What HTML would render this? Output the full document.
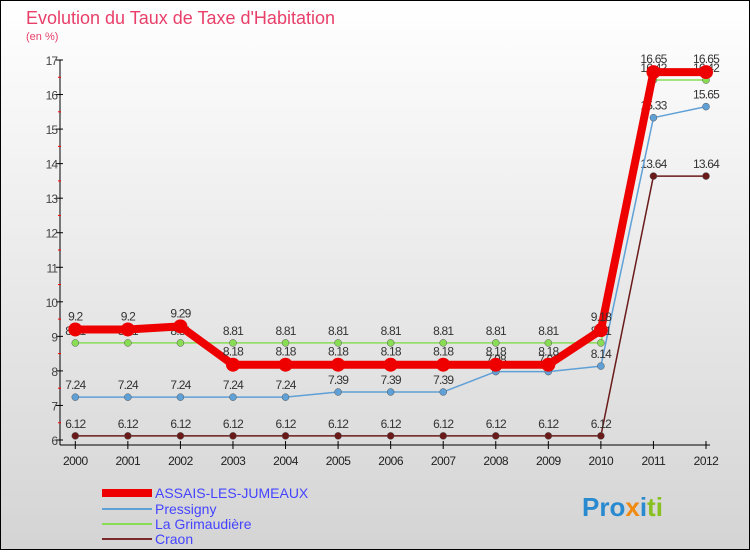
<!DOCTYPE html>
<html><head><meta charset="utf-8"><style>
body{margin:0;width:750px;height:550px;overflow:hidden;font-family:"Liberation Sans",sans-serif}
</style></head><body>
<svg id="c" width="750" height="550" xmlns="http://www.w3.org/2000/svg">
<defs><linearGradient id="bg" x1="0" y1="0" x2="0" y2="1"><stop offset="0" stop-color="#ffffff"/><stop offset="1" stop-color="#d4d4d4"/></linearGradient></defs>
<rect x="0.5" y="0.5" width="749" height="549" fill="url(#bg)" stroke="#000"/>
<text x="26" y="24" font-size="18" fill="#e8406a">Evolution du Taux de Taxe d'Habitation</text>
<text x="26" y="40" font-size="11" fill="#e8406a">(en %)</text>
<g id="axes"></g><g id="series"></g>
<g>
<rect x="102" y="489" width="50" height="8" fill="#ee0000"/>
<text x="155" y="498" font-size="14" fill="#4444ff">ASSAIS-LES-JUMEAUX</text>
<rect x="102" y="508" width="50" height="2" fill="#5fa0d6"/>
<text x="155" y="514" font-size="14" fill="#4444ff">Pressigny</text>
<rect x="102" y="523" width="50" height="2" fill="#88dd55"/>
<text x="155" y="529" font-size="14" fill="#4444ff">La Grimaudière</text>
<rect x="102" y="538" width="50" height="2" fill="#7a2a2a"/>
<text x="155" y="544" font-size="14" fill="#4444ff">Craon</text>
</g>
<text x="582" y="516" font-size="26" font-weight="bold"><tspan fill="#2a8ad0">Pro</tspan><tspan fill="#f08a10">x</tspan><tspan fill="#2a8ad0">i</tspan><tspan fill="#88c020">ti</tspan></text>
</svg>
<script>
const years=[2000,2001,2002,2003,2004,2005,2006,2007,2008,2009,2010,2011,2012];
const yTicks=[6,7,8,9,10,11,12,13,14,15,16,17];
const assais=[9.2,9.2,9.29,8.18,8.18,8.18,8.18,8.18,8.18,8.18,9.18,16.65,16.65];
const pressigny=[7.24,7.24,7.24,7.24,7.24,7.39,7.39,7.39,7.98,7.98,8.14,15.33,15.65];
const grimaudiere=[8.81,8.81,8.81,8.81,8.81,8.81,8.81,8.81,8.81,8.81,8.81,16.42,16.42];
const craon=[6.12,6.12,6.12,6.12,6.12,6.12,6.12,6.12,6.12,6.12,6.12,13.64,13.64];
const NS="http://www.w3.org/2000/svg";
const X=i=>75.3+i*(706-75.3)/(years.length-1);
const Y=v=>440-(v-6)*(380/11);
function mk(t,a,p){const e=document.createElementNS(NS,t);for(const k in a)e.setAttribute(k,a[k]);p.appendChild(e);return e;}
const ax=document.getElementById('axes');
let e=mk('line',{x1:60,y1:60,x2:60,y2:445,stroke:'#000'},ax);

e=mk('line',{x1:60,y1:445,x2:710,y2:445,stroke:'#000'},ax);

yTicks.forEach(v=>{mk('line',{x1:56,y1:Y(v),x2:63,y2:Y(v),stroke:'#000'},ax);
 if(v<17)mk('line',{x1:58,y1:Y(v+0.5),x2:61,y2:Y(v+0.5),stroke:'#f00'},ax);
 const t=mk('text',{x:57,y:Y(v)+5,'font-size':12,fill:'#444','text-anchor':'end','letter-spacing':'-1'},ax);t.textContent=v;
 });
years.forEach((yr,i)=>{mk('line',{x1:X(i),y1:441,x2:X(i),y2:449,stroke:'#000'},ax);
 const t=mk('text',{x:X(i),y:465,'font-size':12,fill:'#222','text-anchor':'middle','letter-spacing':'-0.5'},ax);t.textContent=yr;
 });
const sg=document.getElementById('series');
function draw(arr,name,col,w,r){
 const g=mk('g',{},sg);
 mk('polyline',{points:arr.map((v,i)=>X(i)+','+Y(v)).join(' '),fill:'none',stroke:col,'stroke-width':w,'stroke-linejoin':'round'},g);
 arr.forEach((v,i)=>{const c=mk('circle',{cx:X(i),cy:Y(v),r:r,fill:col,stroke:w>3?'none':'#555','stroke-width':0.5},g);
  
  const t=mk('text',{x:X(i),y:Y(v)-(w>3?9:8),'font-size':12,fill:'#333','text-anchor':'middle','letter-spacing':'-0.8'},g);t.textContent=v;
  });
}
draw(craon,'craon','#6b1a1a',1.5,3.5);
draw(pressigny,'pressigny','#5fa0d6',1.5,3.5);
draw(grimaudiere,'grimaudiere','#88dd55',1.5,3.5);
draw(assais,'assais','#ee0000',8,7);
</script>
</body></html>
